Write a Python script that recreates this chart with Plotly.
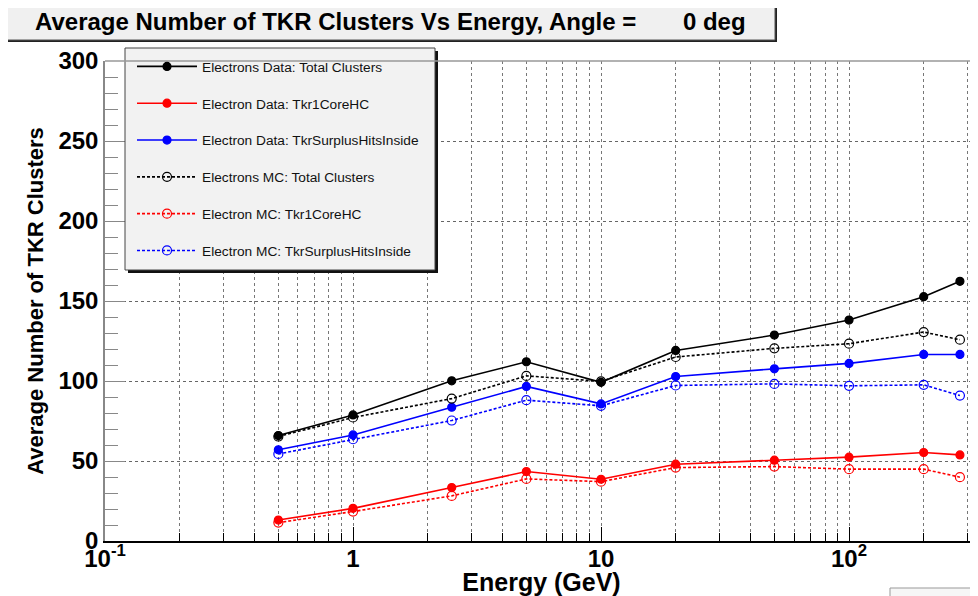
import plotly.graph_objects as go

# ---- data ----
energy = [0.5, 1, 2.5, 5, 10, 20, 50, 100, 200, 280]
data_total = [65.9, 78.8, 100.1, 112.0, 99.2, 119.1, 128.7, 138.1, 152.7, 162.3]
data_core = [13.1, 20.4, 33.4, 43.4, 38.6, 48.0, 50.5, 52.4, 55.3, 53.8]
data_surplus = [57.0, 66.3, 83.6, 96.6, 85.7, 102.8, 107.6, 111.0, 116.6, 116.6]
mc_total = [65.3, 77.2, 89.0, 103.2, 99.8, 115.0, 120.4, 123.3, 130.6, 125.8]
mc_core = [11.5, 18.4, 28.2, 38.8, 37.1, 45.9, 46.5, 44.9, 44.9, 39.9]
mc_surplus = [54.4, 63.6, 75.3, 88.0, 84.5, 97.2, 98.2, 97.0, 97.6, 90.9]

names = ["Electrons Data: Total Clusters", "Electron Data: Tkr1CoreHC",
         "Electron Data: TkrSurplusHitsInside", "Electrons MC: Total Clusters",
         "Electron MC: Tkr1CoreHC", "Electron MC: TkrSurplusHitsInside"]
series = [data_total, data_core, data_surplus, mc_total, mc_core, mc_surplus]
colors = ["#000000", "#ff0000", "#0000ff", "#000000", "#ff0000", "#0000ff"]
is_mc = [False, False, False, True, True, True]

xtick_vals = [0.1, 1, 10, 100]
xtick_text = ["10<sup>-1</sup>", "1", "10", "10<sup>2</sup>"]
xminor_vals = [m * d for d in (0.1, 1, 10, 100) for m in range(2, 10) if m * d <= 330]

# page body has an 8px margin -> figure is drawn offset by (8, 8)
OFF = 8
W, H = 970, 588
ML, MR, MT, MB = 97, 0, 53, 55
PW, PH = W - ML - MR, H - MT - MB


def px(sx):  # screen x -> paper
    return (sx - OFF - ML) / PW


def py(sy):  # screen y -> paper
    return (H - MB - (sy - OFF)) / PH


FONT = "Liberation Sans, Arial, sans-serif"

fig = go.Figure()
for name, ys, col, mc in zip(names, series, colors, is_mc):
    fig.add_trace(go.Scatter(
        x=energy, y=ys, name=name, mode="lines+markers", legendgroup=name,
        line=dict(color=col, width=1.6, dash="3px,2px" if mc else "solid"),
        marker=dict(symbol="circle-open" if mc else "circle", size=9 if mc else 8,
                    color=col, line=dict(color=col, width=1.2)),
    ))

shapes = [
    dict(type="rect", xref="paper", yref="paper", x0=px(7), x1=px(777), y0=py(42), y1=py(4),
         fillcolor="#222222", line=dict(width=0), layer="above"),
    dict(type="rect", xref="paper", yref="paper", x0=px(5), x1=px(775), y0=py(40), y1=py(2),
         fillcolor="#f0f0f0", line=dict(color="#555555", width=1), layer="above"),
    dict(type="rect", xref="paper", yref="paper", x0=px(128), x1=px(438), y0=py(273), y1=py(51),
         fillcolor="#111111", line=dict(width=0), layer="above"),
    dict(type="rect", xref="paper", yref="paper", x0=px(125), x1=px(435), y0=py(270), y1=py(48),
         fillcolor="#f2f2f2", line=dict(color="#444444", width=1), layer="above"),
    dict(type="line", xref="paper", yref="paper", x0=0, x1=1, y0=1, y1=1,
         line=dict(color="#999999", width=1.5), layer="above"),
    dict(type="rect", xref="paper", yref="paper", x0=px(890), x1=px(990), y0=py(604), y1=py(588),
         fillcolor="#f6f6f6", line=dict(color="#999999", width=1), layer="above"),
]

fig.update_layout(
    width=W, height=H,
    margin=dict(l=ML, r=MR, t=MT, b=MB, autoexpand=False),
    paper_bgcolor="white", plot_bgcolor="white",
    font=dict(family=FONT, color="black"),
    shapes=shapes,
    annotations=[dict(
        xref="paper", yref="paper", x=px(390), y=py(21), xanchor="center", yanchor="middle",
        text="Average Number of TKR Clusters Vs Energy, Angle =" + "\u00a0" * 7 + "0 deg",
        showarrow=False, font=dict(family=FONT, size=24, weight="bold", color="black"),
    )],
    showlegend=True,
    legend=dict(
        x=px(132), y=py(51), xanchor="left", yanchor="top",
        bgcolor="rgba(0,0,0,0)", borderwidth=0,
        font=dict(family=FONT, size=13.7, color="#111111"),
        tracegroupgap=16, itemwidth=60,
    ),
    xaxis=dict(
        type="log", range=[-1, 2.52],
        tickvals=xtick_vals, ticktext=xtick_text,
        tickfont=dict(family=FONT, size=24, weight="bold"),
        ticks="inside", ticklen=14, tickcolor="black", tickwidth=1,
        showline=True, linecolor="black", linewidth=1.5,
        showgrid=True, gridcolor="#777777", griddash="dot", gridwidth=1,
        minor=dict(tickvals=xminor_vals, ticks="inside", ticklen=8, tickcolor="black",
                   showgrid=True, gridcolor="#777777", griddash="dot", gridwidth=1),
        zeroline=False, ticklabelstandoff=-5,
        title=dict(text="Energy (GeV)", font=dict(family=FONT, size=25, weight="bold"),
                   standoff=2),
    ),
    yaxis=dict(
        range=[0, 300], tickvals=[0, 50, 100, 150, 200, 250, 300],
        tickfont=dict(family=FONT, size=24, weight="bold"),
        ticks="inside", ticklen=20, tickcolor="#888888", tickwidth=1,
        showline=True, linecolor="#888888", linewidth=1.5,
        showgrid=True, gridcolor="#666666", griddash="dot", gridwidth=1,
        minor=dict(dtick=10, ticks="inside", ticklen=13, tickcolor="#888888", showgrid=False),
        zeroline=False, ticklabelstandoff=0,
        title=dict(text="Average Number of TKR Clusters",
                   font=dict(family=FONT, size=22, weight="bold"), standoff=9),
    ),
)

fig.write_html("out.html")
